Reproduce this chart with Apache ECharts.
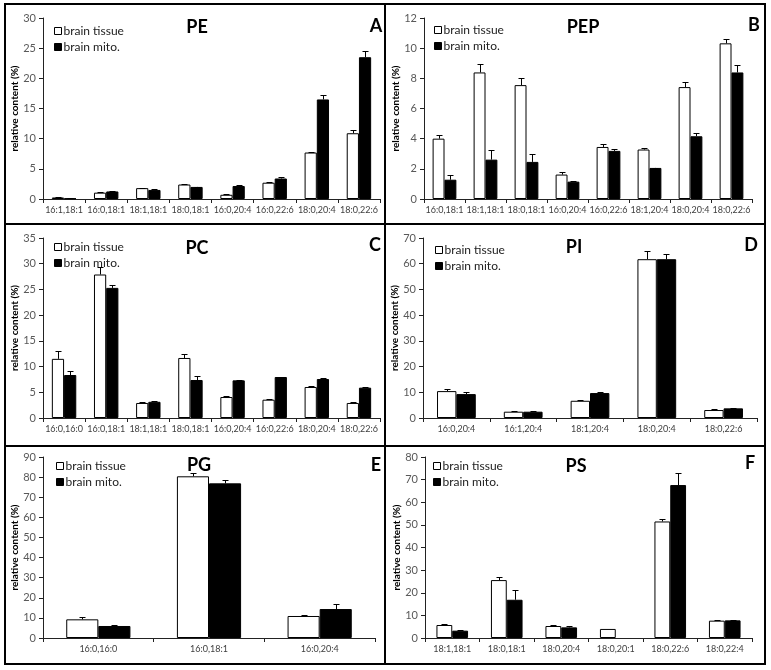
<!DOCTYPE html>
<html><head><meta charset="utf-8">
<script src="https://cdn.jsdelivr.net/npm/echarts@6/dist/echarts.min.js"></script>
<style>html,body{margin:0;padding:0;background:#fff}#c{width:771px;height:670px}</style>
</head><body><div id="c"></div>
<script>
// ---- Data ----
const peCats = ['16:1,18:1','16:0,18:1','18:1,18:1','18:0,18:1','16:0,20:4','16:0,22:6','18:0,20:4','18:0,22:6'];
const peTissue = [0.25, 1.05, 1.8, 2.4, 0.7, 2.7, 7.7, 10.9];
const peTissueErr = [0.05, 0.1, 0.05, 0.1, 0.05, 0.1, 0.1, 0.5];
const peMito = [0.1, 1.25, 1.5, 2.0, 2.15, 3.4, 16.5, 23.5];
const peMitoErr = [0.05, 0.05, 0.1, 0.05, 0.1, 0.2, 0.8, 1.0];

const pepCats = ['16:0,18:1','18:1,18:1','18:0,18:1','16:0,20:4','16:0,22:6','18:1,20:4','18:0,20:4','18:0,22:6'];
const pepTissue = [4.0, 8.39, 7.55, 1.62, 3.45, 3.28, 7.42, 10.32];
const pepTissueErr = [0.25, 0.53, 0.5, 0.17, 0.22, 0.11, 0.31, 0.26];
const pepMito = [1.28, 2.61, 2.46, 1.15, 3.19, 2.06, 4.16, 8.39];
const pepMitoErr = [0.29, 0.67, 0.55, 0.05, 0.15, 0.02, 0.22, 0.47];

const pcCats = ['16:0,16:0','16:0,18:1','18:1,18:1','18:0,18:1','16:0,20:4','16:0,22:6','18:0,20:4','18:0,22:6'];
const pcTissue = [11.5, 27.9, 2.92, 11.67, 4.08, 3.56, 6.03, 2.92];
const pcTissueErr = [1.5, 1.4, 0.15, 0.7, 0.15, 0.05, 0.15, 0.15];
const pcMito = [8.36, 25.3, 3.15, 7.39, 7.32, 7.97, 7.58, 5.9];
const pcMitoErr = [0.7, 0.5, 0.15, 0.7, 0.05, 0.05, 0.2, 0.2];

const piCats = ['16:0,20:4','16:1,20:4','18:1,20:4','18:0,20:4','18:0,22:6'];
const piTissue = [10.46, 2.45, 6.7, 61.76, 3.1];
const piTissueErr = [0.75, 0.1, 0.15, 3.35, 0.25];
const piMito = [9.3, 2.45, 9.7, 61.76, 3.75];
const piMitoErr = [0.65, 0.25, 0.4, 2.05, 0.25];

const pgCats = ['16:0,16:0','16:0,18:1','16:0,20:4'];
const pgTissue = [9.28, 80.4, 10.94];
const pgTissueErr = [1.3, 1.7, 0.5];
const pgMito = [5.97, 76.9, 14.4];
const pgMitoErr = [0.6, 1.9, 2.5];

const psCats = ['18:1,18:1','18:0,18:1','18:0,20:4','18:0,20:1','18:0,22:6','18:0,22:4'];
const psTissue = [5.74, 25.6, 5.3, 4.0, 51.5, 7.66];
const psTissueErr = [0.3, 1.35, 0.3, 0.0, 1.2, 0.15];
const psMito = [3.24, 16.9, 4.7, null, 67.6, 7.8];
const psMitoErr = [0.3, 4.1, 0.6, null, 5.15, 0.15];

const yMaxes = [30, 12, 35, 70, 90, 80];
const yIntervals = [5, 2, 5, 10, 10, 10];
const titles = ['PE','PEP','PC','PI','PG','PS'];
const letters = ['A','B','C','D','E','F'];

// ---- Layout ----
const panels = [
  {cats: peCats, t: peTissue, te: peTissueErr, m: peMito, me: peMitoErr, grid:{left:43, top:18, width:337, height:181}, title:[197,27], letter:[376,26], legend:[49,20]},
  {cats: pepCats, t: pepTissue, te: pepTissueErr, m: pepMito, me: pepMitoErr, grid:{left:424, top:18, width:328, height:181}, title:[583,27], letter:[754,25], legend:[429,19]},
  {cats: pcCats, t: pcTissue, te: pcTissueErr, m: pcMito, me: pcMitoErr, grid:{left:43, top:238, width:337, height:180}, title:[197,248], letter:[375,245], legend:[49,236]},
  {cats: piCats, t: piTissue, te: piTissueErr, m: piMito, me: piMitoErr, grid:{left:423, top:238, width:334, height:180}, title:[574,247], letter:[751,245], legend:[430,239]},
  {cats: pgCats, t: pgTissue, te: pgTissueErr, m: pgMito, me: pgMitoErr, grid:{left:43, top:457, width:332, height:181}, title:[199,465], letter:[376,465], legend:[51,455]},
  {cats: psCats, t: psTissue, te: psTissueErr, m: psMito, me: psMitoErr, grid:{left:425, top:457, width:327, height:181}, title:[576,466], letter:[750,463], legend:[428,455]}
];

const FONT = 'Lato, "Open Sans", sans-serif';
const BAR_FRAC = 0.29;

function errRender(offsetFrac) {
  return function (params, api) {
    const v = api.value(1), e = api.value(2);
    if (v == null || isNaN(v) || e == null || isNaN(e) || e <= 0) return;
    const idx = api.value(0);
    const p0 = api.coord([idx, v]);
    const p1 = api.coord([idx, v + e]);
    const band = api.size([1, 0])[0];
    const cx = Math.round(p0[0] + offsetFrac * band) + 0.5;
    const yTop = Math.round(p1[1]) + 0.5;
    return {
      type: 'group',
      children: [
        {type: 'line', shape: {x1: cx, y1: p0[1], x2: cx, y2: yTop}, style: {stroke: '#000', lineWidth: 1}},
        {type: 'line', shape: {x1: cx - 3, y1: yTop, x2: cx + 3, y2: yTop}, style: {stroke: '#000', lineWidth: 1}}
      ]
    };
  };
}

const grid = [], xAxis = [], yAxis = [], series = [], legend = [], graphic = [];
panels.forEach((p, i) => {
  grid.push(Object.assign({containLabel: false}, p.grid));
  xAxis.push({
    type: 'category', gridIndex: i, data: p.cats,
    axisLine: {lineStyle: {color: '#222', width: 1}},
    axisTick: {show: true, alignWithLabel: false, length: 4, lineStyle: {color: '#222'}},
    axisLabel: {fontSize: 9, color: '#404040', fontFamily: FONT, margin: 7, interval: 0}
  });
  yAxis.push({
    type: 'value', gridIndex: i, min: 0, max: yMaxes[i], interval: yIntervals[i],
    splitLine: {show: false},
    axisLine: {show: true, lineStyle: {color: '#222', width: 1}},
    axisTick: {show: true, length: 4, lineStyle: {color: '#222'}},
    axisLabel: {fontSize: 11, color: '#595959', fontFamily: FONT, margin: 7},
    name: 'relative content (%)', nameLocation: 'middle', nameRotate: 90, nameGap: 23,
    nameTextStyle: {fontSize: 10, fontWeight: 'bold', color: '#000', fontFamily: FONT}
  });
  series.push({
    type: 'bar', name: 'brain tissue', xAxisIndex: i, yAxisIndex: i, data: p.t,
    barGap: '0%', barCategoryGap: '42%',
    itemStyle: {color: '#fff', borderColor: '#000', borderWidth: 1},
    emphasis: {disabled: true}
  });
  series.push({
    type: 'bar', name: 'brain mito.', xAxisIndex: i, yAxisIndex: i, data: p.m,
    barGap: '0%', barCategoryGap: '42%',
    itemStyle: {color: '#000', borderColor: '#000', borderWidth: 1},
    emphasis: {disabled: true}
  });
  series.push({
    type: 'custom', name: 'err-t-' + i, xAxisIndex: i, yAxisIndex: i,
    renderItem: errRender(-BAR_FRAC / 2), encode: {x: 0, y: 1}, z: 3,
    data: p.cats.map((c, k) => [k, p.t[k], p.te[k]])
  });
  series.push({
    type: 'custom', name: 'err-m-' + i, xAxisIndex: i, yAxisIndex: i,
    renderItem: errRender(BAR_FRAC / 2), encode: {x: 0, y: 1}, z: 3,
    data: p.cats.map((c, k) => [k, p.m[k] == null ? NaN : p.m[k], p.me[k] == null ? NaN : p.me[k]])
  });
  legend.push({
    data: ['brain tissue', 'brain mito.'], orient: 'vertical',
    left: p.legend[0], top: p.legend[1], itemWidth: 7, itemHeight: 7, itemGap: 4,
    icon: 'rect', selectedMode: false,
    itemStyle: {borderWidth: 1},
    textStyle: {fontSize: 12, color: '#222', fontFamily: FONT, padding: [0, 0, 0, -3]}
  });
  graphic.push({type: 'text', x: p.title[0], y: p.title[1],
    style: {text: titles[i], font: 'bold 18px ' + FONT, fill: '#000', textAlign: 'center', textVerticalAlign: 'middle'}});
  graphic.push({type: 'text', x: p.letter[0], y: p.letter[1],
    style: {text: letters[i], font: 'bold 18px ' + FONT, fill: '#000', textAlign: 'center', textVerticalAlign: 'middle'}});
});

// panel frames
graphic.push({type: 'rect', shape: {x: 5, y: 4, width: 760, height: 660}, style: {fill: 'none', stroke: '#000', lineWidth: 2}, z: 10});
graphic.push({type: 'line', shape: {x1: 385, y1: 4, x2: 385, y2: 664}, style: {stroke: '#000', lineWidth: 2}, z: 10});
graphic.push({type: 'line', shape: {x1: 5, y1: 224, x2: 765, y2: 224}, style: {stroke: '#000', lineWidth: 2}, z: 10});
graphic.push({type: 'line', shape: {x1: 5, y1: 446, x2: 765, y2: 446}, style: {stroke: '#000', lineWidth: 2}, z: 10});

const chart = echarts.init(document.getElementById('c'));
chart.setOption({animation: false, backgroundColor: '#fff', grid, xAxis, yAxis, series, legend, graphic});
</script>
</body></html>
